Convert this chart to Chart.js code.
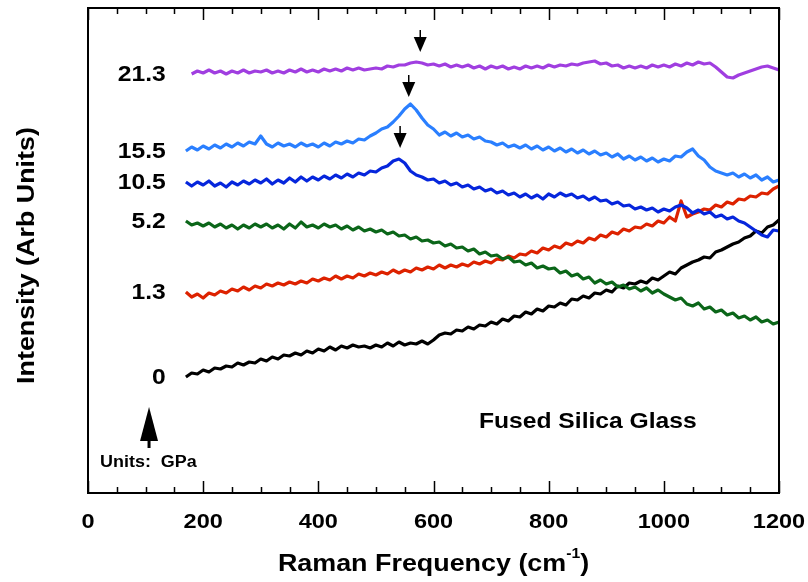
<!DOCTYPE html>
<html>
<head>
<meta charset="utf-8">
<script src="https://cdn.jsdelivr.net/npm/chart.js@4.4.1/dist/chart.umd.min.js"></script>
<style>
  html, body { margin: 0; padding: 0; background: #fff; }
  #wrap { width: 808px; height: 582px; }
</style>
</head>
<body>
<div id="wrap"><canvas id="chart" width="808" height="582"></canvas></div>
<script>
// Raman shift (cm-1) sample positions shared by all spectra
var ramanShift = [
  170, 180, 190, 200, 210, 220, 230, 240, 250, 260,
  270, 280, 290, 300, 310, 320, 330, 340, 350, 360,
  370, 380, 390, 400, 410, 420, 430, 440, 450, 460,
  470, 480, 490, 500, 510, 520, 530, 540, 550, 560,
  570, 580, 590, 600, 610, 620, 630, 640, 650, 660,
  670, 680, 690, 700, 710, 720, 730, 740, 750, 760,
  770, 780, 790, 800, 810, 820, 830, 840, 850, 860,
  870, 880, 890, 900, 910, 920, 930, 940, 950, 960,
  970, 980, 990, 1000, 1010, 1020, 1030, 1040, 1050, 1060,
  1070, 1080, 1090, 1100, 1110, 1120, 1130, 1140, 1150, 1160,
  1170, 1180, 1190, 1200
];

// pressures (GPa), top to bottom
var pressures = ['21.3', '15.5', '10.5', '5.2', '1.3', '0'];

// intensities (arb units, offset spectra)
var p21_3 = [
  null, 419, 422, 420, 423, 420, 422, 419, 422, 420,
  423, 420, 422, 421, 423, 420, 422, 420, 423, 421,
  424, 421, 423, 421, 424, 422, 424, 422, 425, 423,
  425, 423, 424, 425, 424, 427, 426, 428, 428, 430,
  431, 430, 428, 429, 427, 429, 426, 428, 426, 428,
  425, 427, 424, 427, 425, 427, 424, 426, 424, 427,
  425, 427, 425, 428, 426, 428, 427, 429, 428, 430,
  431, 432, 429, 430, 427, 428, 425, 427, 425, 427,
  425, 428, 426, 428, 426, 429, 427, 430, 428, 431,
  429, 430, 426, 421, 416, 415, 418, 420, 422, 424,
  426, 427, 425, 423
];
var p15_5 = [
  342, 346, 343, 347, 344, 348, 345, 349, 346, 350,
  347, 351, 349, 357, 349, 346, 350, 347, 349, 346,
  350, 347, 349, 346, 350, 347, 351, 349, 352, 350,
  354, 353, 357, 360, 364, 366, 371, 377, 384, 389,
  383, 375, 368, 364, 358, 361, 357, 360, 356, 358,
  354, 356, 352, 351, 348, 350, 346, 348, 345, 348,
  344, 347, 343, 346, 342, 345, 341, 344, 340, 343,
  339, 342, 338, 340, 336, 339, 334, 337, 333, 336,
  332, 335, 331, 334, 332, 337, 336, 341, 344, 337,
  333, 326, 322, 320, 318, 320, 316, 319, 315, 318,
  313, 316, 311, 313
];
var p10_5 = [
  311, 307, 311, 308, 312, 307, 310, 306, 311, 308,
  312, 309, 313, 310, 314, 309, 313, 310, 315, 311,
  316, 312, 316, 313, 317, 314, 318, 315, 319, 316,
  320, 318, 322, 321, 325, 327, 332, 334, 330, 322,
  318, 316, 313, 314, 310, 312, 308, 310, 306, 308,
  304, 306, 302, 304, 300, 302, 298, 300, 296, 299,
  295, 298, 294, 299, 296, 300, 297, 299, 295, 297,
  293, 296, 292, 293, 289, 291, 287, 288, 284, 286,
  283, 285, 281, 284, 282, 286, 288, 285, 280, 283,
  279, 281, 276, 278, 274, 276, 272, 270, 266, 262,
  258, 256, 263, 262
];
var p5_2 = [
  272, 268, 270, 267, 270, 266, 269, 265, 268, 264,
  268, 265, 269, 266, 269, 265, 268, 264, 269, 265,
  271, 266, 268, 265, 269, 266, 268, 264, 267, 263,
  266, 262, 264, 261, 263, 259, 261, 257, 258, 254,
  256, 252, 253, 250, 251, 247, 249, 245, 246, 242,
  244, 239, 241, 237, 238, 234, 236, 231, 232, 228,
  230, 225, 227, 224, 225, 220, 222, 217, 219, 214,
  216, 210, 213, 209, 211, 206, 208, 204, 206, 202,
  205, 200, 203, 199, 196, 193, 195, 189, 187, 190,
  184, 186, 181, 183, 178, 180, 175, 177, 173, 176,
  171, 173, 169, 171
];
var p1_3 = [
  201, 196, 199, 195, 200, 198, 202, 200, 204, 202,
  206, 203, 207, 205, 209, 207, 210, 208, 211, 209,
  212, 210, 214, 212, 215, 213, 217, 214, 217, 215,
  219, 217, 220, 218, 221, 219, 223, 220, 223, 221,
  225, 223, 226, 224, 228, 225, 228, 226, 229, 227,
  231, 229, 232, 230, 234, 233, 237, 235, 239, 238,
  242, 240, 245, 243, 247, 245, 250, 248, 252, 250,
  255, 253, 258, 256, 261, 259, 264, 262, 266, 265,
  269, 267, 272, 270, 276, 272, 292, 276, 279, 281,
  284, 283, 288, 286, 291, 289, 294, 293, 297, 296,
  300, 299, 304, 307
];
var p0 = [
  116, 120, 119, 123, 121, 125, 124, 127, 126, 130,
  128, 131, 130, 134, 132, 136, 134, 138, 137, 140,
  138, 142, 140, 144, 142, 146, 143, 147, 145, 148,
  146, 147, 145, 148, 146, 150, 147, 151, 148, 150,
  149, 152, 149, 153, 158, 160, 159, 163, 162, 166,
  164, 168, 167, 171, 169, 174, 172, 177, 176, 181,
  179, 184, 182, 187, 186, 190, 188, 194, 193, 197,
  195, 200, 199, 203, 201, 207, 205, 210, 209, 212,
  210, 215, 213, 217, 221, 219, 225, 228, 231, 233,
  236, 235, 241, 243, 246, 249, 251, 255, 257, 262,
  260, 266, 268, 273
];

var spectra = [p21_3, p15_5, p10_5, p5_2, p1_3, p0];
var colors = ['#a03ee0', '#2a7fff', '#0626dc', '#0b6619', '#dd2200', '#000000'];

// peak markers: [shift, intensity at arrow tip]
var peakArrows = [[577, 441], [557, 396], [542, 345]];

var xTicks = [0, 200, 400, 600, 800, 1000, 1200];

var FONT = '"Liberation Sans", Arial, Helvetica, sans-serif';
var STRETCH = 1.12;

function drawText(ctx, text, x, y, size, align) {
    ctx.save();
    ctx.font = 'bold ' + size + 'px ' + FONT;
    ctx.textBaseline = 'middle';
    ctx.textAlign = align || 'center';
    ctx.translate(x, y);
    ctx.scale(STRETCH, 1);
    ctx.fillStyle = '#000';
    ctx.fillText(text, 0, 0);
    ctx.restore();
}

var decor = {
    id: 'decor',
    afterDatasetsDraw: function (chart) {
        var ctx = chart.ctx;
        var xs = chart.scales.x, ys = chart.scales.y;
        var a = chart.chartArea;

        // pressure labels next to each trace
        spectra.forEach(function (s, i) {
            var first = s[0] !== null ? s[0] : s[1];
            drawText(ctx, pressures[i], xs.getPixelForValue(135), ys.getPixelForValue(first) + 1, 22, 'right');
        });

        // peak arrows
        ctx.save();
        ctx.fillStyle = '#000';
        ctx.strokeStyle = '#000';
        ctx.lineWidth = 1.5;
        peakArrows.forEach(function (p) {
            var px = xs.getPixelForValue(p[0]);
            var py = ys.getPixelForValue(p[1]);
            ctx.beginPath();
            ctx.moveTo(px, py - 22);
            ctx.lineTo(px, py - 12);
            ctx.stroke();
            ctx.beginPath();
            ctx.moveTo(px - 6.5, py - 15);
            ctx.lineTo(px + 6.5, py - 15);
            ctx.lineTo(px, py);
            ctx.closePath();
            ctx.fill();
        });

        // "Units" arrow
        var ux = xs.getPixelForValue(106);
        var uTip = ys.getPixelForValue(86);
        var uBase = ys.getPixelForValue(52);
        ctx.beginPath();
        ctx.moveTo(ux, uTip);
        ctx.lineTo(ux + 9, uBase);
        ctx.lineTo(ux - 9, uBase);
        ctx.closePath();
        ctx.fill();
        ctx.fillRect(ux - 1.5, uBase - 2, 3, 9);
        ctx.restore();

        drawText(ctx, 'Units:  GPa', xs.getPixelForValue(21), ys.getPixelForValue(30), 16, 'left');
        drawText(ctx, 'Fused Silica Glass', xs.getPixelForValue(868), ys.getPixelForValue(71), 22, 'center');

        // frame
        ctx.save();
        ctx.strokeStyle = '#000';
        ctx.lineWidth = 2;
        ctx.strokeRect(a.left, a.top, a.right - a.left, a.bottom - a.top);

        // inward ticks, top and bottom
        ctx.lineWidth = 1.5;
        for (var v = 0; v <= 1200; v += 50) {
            var tx = Math.round(xs.getPixelForValue(v)) + 0.5;
            var len = (v % 200 === 0) ? 12 : 6;
            ctx.beginPath();
            ctx.moveTo(tx, a.bottom);
            ctx.lineTo(tx, a.bottom - len);
            ctx.moveTo(tx, a.top);
            ctx.lineTo(tx, a.top + len);
            ctx.stroke();
        }
        ctx.restore();

        // tick labels
        xTicks.forEach(function (t) {
            drawText(ctx, String(t), xs.getPixelForValue(t), a.bottom + 29, 21, 'center');
        });

        // x title with superscript
        ctx.save();
        ctx.font = 'bold 24px ' + FONT;
        var t1 = 'Raman Frequency (cm', t3 = ')';
        var w1 = ctx.measureText(t1).width * STRETCH;
        var w3 = ctx.measureText(t3).width * STRETCH;
        ctx.font = 'bold 14px ' + FONT;
        var w2 = ctx.measureText('-1').width * STRETCH;
        ctx.restore();
        var cx = (a.left + a.right) / 2 - (w1 + w2 + w3) / 2;
        var cy = a.bottom + 71;
        drawText(ctx, t1, cx, cy, 24, 'left');
        drawText(ctx, '-1', cx + w1, cy - 10, 14, 'left');
        drawText(ctx, t3, cx + w1 + w2, cy, 24, 'left');

        // y title
        ctx.save();
        ctx.translate(27, (a.top + a.bottom) / 2 + 5);
        ctx.rotate(-Math.PI / 2);
        drawText(ctx, 'Intensity (Arb Units)', 0, 0, 24, 'center');
        ctx.restore();
    }
};

var datasets = spectra.map(function (s, i) {
    return {
        label: pressures[i] + ' GPa',
        data: ramanShift.map(function (x, j) { return { x: x, y: s[j] }; }),
        borderColor: colors[i],
        borderWidth: 3.2,
        borderJoinStyle: 'round',
        pointRadius: 0,
        tension: 0,
        fill: false,
        spanGaps: false
    };
});

new Chart(document.getElementById('chart'), {
    type: 'line',
    data: { datasets: datasets },
    options: {
        responsive: false,
        animation: false,
        layout: { padding: { left: 88, right: 29, top: 8, bottom: 89 } },
        plugins: { legend: { display: false }, tooltip: { enabled: false } },
        scales: {
            x: { type: 'linear', min: 0, max: 1200, display: false },
            y: { type: 'linear', min: 0, max: 485, display: false }
        }
    },
    plugins: [decor]
});
</script>
</body>
</html>
